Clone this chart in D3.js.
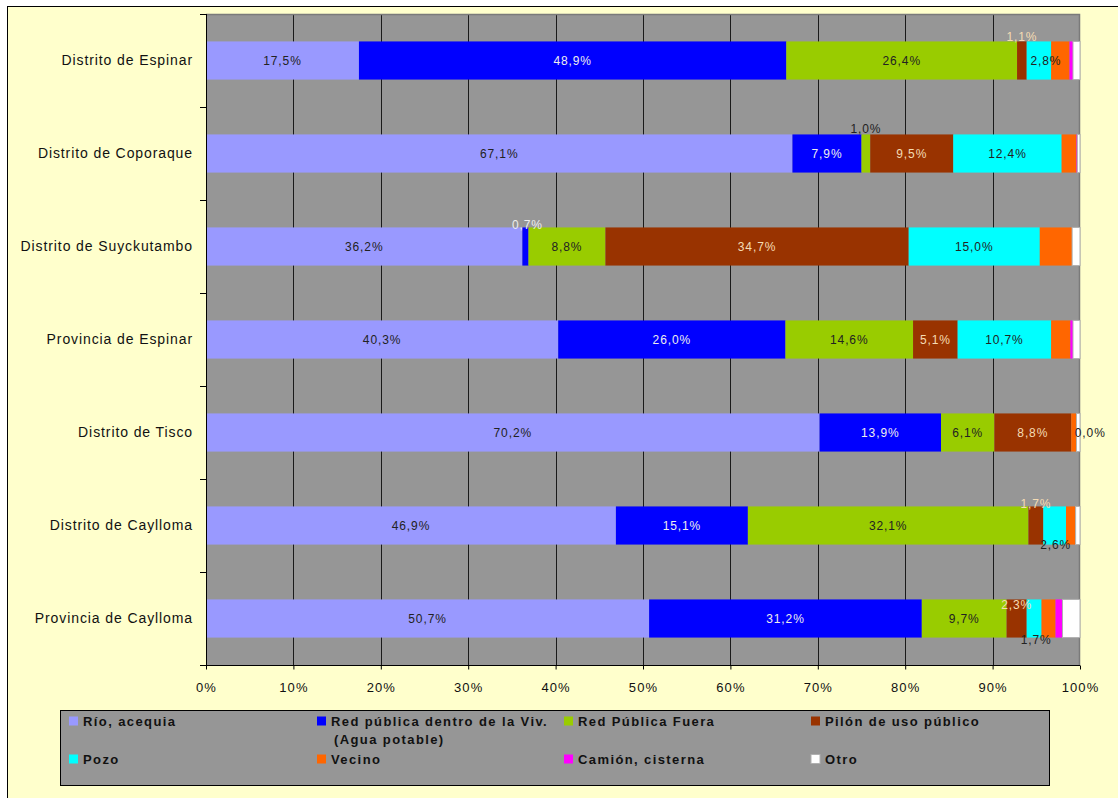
<!DOCTYPE html>
<html>
<head>
<meta charset="utf-8">
<script src="https://cdn.jsdelivr.net/npm/d3@7"></script>
<style>
  html, body { margin: 0; padding: 0; background: #ffffff; }
  svg { display: block; font-family: "Liberation Sans", Arial, sans-serif; }
</style>
</head>
<body>
<svg id="chart" width="1118" height="798"></svg>
<script>
// Water supply source by district / province (% of households)
const categories = [
  "Distrito de Espinar",
  "Distrito de Coporaque",
  "Distrito de Suyckutambo",
  "Provincia de Espinar",
  "Distrito de Tisco",
  "Distrito de Caylloma",
  "Provincia de Caylloma"
];
const seriesNames = [
  "Río, acequia",
  "Red pública dentro de la Viv.",
  "Red Pública Fuera",
  "Pilón de uso público",
  "Pozo",
  "Vecino",
  "Camión, cisterna",
  "Otro"
];
const rio       = [17.5, 67.1, 36.2, 40.3, 70.2, 46.9, 50.7];
const redDentro = [48.9,  7.9,  0.7, 26.0, 13.9, 15.1, 31.2];
const redFuera  = [26.4,  1.0,  8.8, 14.6,  6.1, 32.1,  9.7];
const pilon     = [ 1.1,  9.5, 34.7,  5.1,  8.8,  1.7,  2.3];
const pozo      = [ 2.8, 12.4, 15.0, 10.7,  0.0,  2.6,  1.7];
const vecino    = [ 2.1,  1.7,  3.7,  2.2,  0.6,  1.1,  1.6];
const camion    = [ 0.4,  0.1,  0.0,  0.3,  0.0,  0.0,  0.8];
const otro      = [ 0.8,  0.3,  0.9,  0.8,  0.4,  0.5,  2.0];
const xTicks    = [0, 10, 20, 30, 40, 50, 60, 70, 80, 90, 100];

const seriesValues = [rio, redDentro, redFuera, pilon, pozo, vecino, camion, otro];
const colors = ["#9999ff", "#0000ff", "#99cc00", "#993300", "#00ffff", "#ff6600", "#ff00ff", "#ffffff"];
const labelColors = ["#222222", "#eeeeee", "#222222", "#f5dcb4", "#222222"];
const labelledSeries = 5;

// nudges for labels of narrow segments (row|series)
const labelNudge = {
  "0|3": { dx: 0, dy: -24 },
  "0|4": { dx: 7, dy: 0 },
  "1|2": { dx: 0, dy: -25 },
  "2|1": { dx: 2, dy: -22 },
  "4|4": { dx: 19, dy: 0 },
  "5|3": { dx: 0, dy: -22 },
  "5|4": { dx: 1, dy: 19 },
  "6|3": { dx: 0, dy: -14 },
  "6|4": { dx: 2, dy: 21 }
};

const table = categories.map((c, i) => {
  const row = { category: c };
  seriesNames.forEach((s, k) => row[s] = seriesValues[k][i]);
  return row;
});

const svg = d3.select("#chart");
const W = 1118, H = 798;
const plot = { left: 206, right: 1080, top: 14, bottom: 665 };

// page background and frame
svg.append("rect").attr("x", 0).attr("y", 0).attr("width", W).attr("height", H).attr("fill", "#ffffff");
svg.append("rect").attr("x", 7.5).attr("y", 6.5).attr("width", W + 10).attr("height", H + 10)
  .attr("fill", "#ffffcc").attr("stroke", "#000").attr("stroke-width", 1);

const x = d3.scaleLinear().domain([0, 100]).range([plot.left, plot.right]);
const y = d3.scaleBand().domain(categories).range([plot.top, plot.bottom])
  .paddingInner(0.59).paddingOuter(0.295);

// plot area
svg.append("rect").attr("x", plot.left).attr("y", plot.top)
  .attr("width", plot.right - plot.left).attr("height", plot.bottom - plot.top)
  .attr("fill", "#969696");

// vertical gridlines
svg.append("g").selectAll("line").data(xTicks.filter(t => t > 0 && t < 100)).join("line")
  .attr("x1", d => Math.round(x(d)) + 0.5).attr("x2", d => Math.round(x(d)) + 0.5)
  .attr("y1", plot.top).attr("y2", plot.bottom)
  .attr("stroke", "#1a1a1a").attr("stroke-width", 1);

// plot border (top / right)
svg.append("path")
  .attr("d", `M${plot.left},${plot.top + 0.5}H${plot.right - 0.5}V${plot.bottom}`)
  .attr("fill", "none").attr("stroke", "#7a7a7a").attr("stroke-width", 1.5);

// stacked bars
const stack = d3.stack().keys(seriesNames);
const layers = stack(table);

const gBars = svg.append("g");
layers.forEach((layer, k) => {
  gBars.append("g").selectAll("rect").data(layer).join("rect")
    .attr("x", d => x(d[0]))
    .attr("y", d => y(d.data.category))
    .attr("width", d => Math.max(0, x(d[1]) - x(d[0])))
    .attr("height", y.bandwidth())
    .attr("fill", colors[k])
    .attr("stroke", k === 7 ? "#b0b0b0" : "none")
    .attr("stroke-width", k === 7 ? 1 : 0);
});

// value labels
const fmt = v => d3.format(".1f")(v).replace(".", ",") + "%";
const gLab = svg.append("g")
  .attr("font-size", "12px").attr("letter-spacing", "0.9px").attr("text-anchor", "middle");
layers.slice(0, labelledSeries).forEach((layer, k) => {
  layer.forEach((d, i) => {
    const n = labelNudge[i + "|" + k] || { dx: 0, dy: 0 };
    gLab.append("text")
      .attr("x", (x(d[0]) + x(d[1])) / 2 + n.dx)
      .attr("y", y(d.data.category) + y.bandwidth() / 2 + n.dy)
      .attr("dy", "0.35em")
      .attr("fill", labelColors[k])
      .text(fmt(d[1] - d[0]));
  });
});

// y axis: category names
const yAxis = svg.append("g").attr("transform", `translate(${plot.left},0)`)
  .call(d3.axisLeft(y).tickSize(0).tickPadding(13));
yAxis.select(".domain").remove();
yAxis.selectAll("text").attr("font-size", "14px").attr("letter-spacing", "0.9px")
  .attr("fill", "#111").attr("font-family", "Liberation Sans, Arial, sans-serif");

// y axis line and category boundary ticks
const bounds = d3.range(categories.length + 1).map(i => plot.top + i * y.step());
svg.append("line").attr("x1", plot.left + 0.5).attr("x2", plot.left + 0.5)
  .attr("y1", plot.top).attr("y2", plot.bottom).attr("stroke", "#000");
svg.append("g").selectAll("line").data(bounds).join("line")
  .attr("x1", plot.left - 6).attr("x2", plot.left)
  .attr("y1", d => Math.round(d) + 0.5).attr("y2", d => Math.round(d) + 0.5)
  .attr("stroke", "#000");

// x axis
const xAxis = svg.append("g").attr("transform", `translate(0,${plot.bottom + 0.5})`)
  .call(d3.axisBottom(x).tickValues(xTicks).tickSize(4).tickPadding(13)
    .tickFormat(d => d + "%"));
xAxis.select(".domain").attr("stroke", "#000").attr("d", `M${plot.left},0H${plot.right}`);
xAxis.selectAll(".tick line").attr("stroke", "#000");
xAxis.selectAll("text").attr("font-size", "13px").attr("letter-spacing", "1.1px")
  .attr("fill", "#111").attr("font-family", "Liberation Sans, Arial, sans-serif");

// legend
const legend = svg.append("g");
legend.append("rect").attr("x", 60.5).attr("y", 710.5).attr("width", 989).attr("height", 75)
  .attr("fill", "#969696").attr("stroke", "#000").attr("stroke-width", 1);
const colX = [69, 317, 564, 811];
const rowY = [721, 759];
seriesNames.forEach((s, k) => {
  const cx = colX[k % 4], cy = rowY[Math.floor(k / 4)];
  legend.append("rect").attr("x", cx).attr("y", cy - 4.5).attr("width", 9).attr("height", 9)
    .attr("fill", colors[k]).attr("stroke", k === 7 ? "#b0b0b0" : "none");
  const t = legend.append("text").attr("x", cx + 14).attr("y", cy).attr("dy", "0.35em")
    .attr("font-size", "13px").attr("font-weight", "bold").attr("letter-spacing", "1.4px")
    .attr("fill", "#111");
  if (k === 1) {
    t.append("tspan").text(s);
    t.append("tspan").attr("x", cx + 17).attr("dy", "1.4em").text("(Agua potable)");
  } else {
    t.text(s);
  }
});
</script>
</body>
</html>
